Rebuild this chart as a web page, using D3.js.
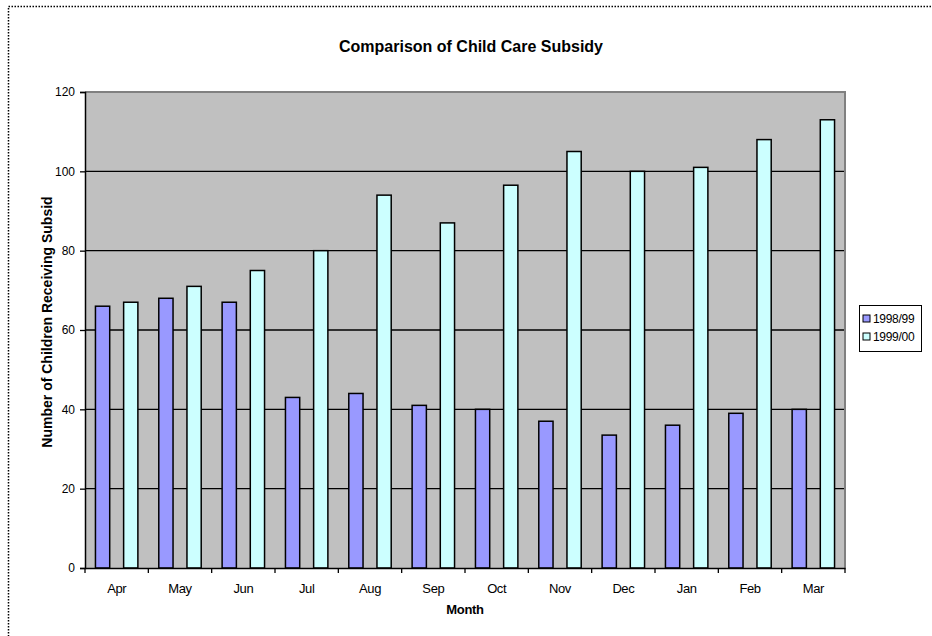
<!DOCTYPE html>
<html>
<head>
<meta charset="utf-8">
<script src="https://cdn.jsdelivr.net/npm/d3@7"></script>
<style>
  body { margin: 0; background: #fff; }
  svg { display: block; font-family: "Liberation Sans", Arial, sans-serif; }
</style>
</head>
<body>
<svg id="chart" width="932" height="636"></svg>
<script>
// Monthly counts of children receiving the child care subsidy, two fiscal years
const months = ["Apr", "May", "Jun", "Jul", "Aug", "Sep", "Oct", "Nov", "Dec", "Jan", "Feb", "Mar"];
const seriesNames = ["1998/99", "1999/00"];
const values1998 = [66, 68, 67, 43, 44, 41, 40, 37, 33.5, 36, 39, 40];
const values1999 = [67, 71, 75, 80, 94, 87, 96.5, 105, 100, 101, 108, 113];
const yTicks = [0, 20, 40, 60, 80, 100, 120];
const seriesColors = ["#9999FF", "#CCFFFF"];

const rows = months.map((m, i) => ({
  month: m,
  values: [
    { series: seriesNames[0], value: values1998[i] },
    { series: seriesNames[1], value: values1999[i] }
  ]
}));

const svg = d3.select("#chart");

// outer dotted chart-area frame (runs past the right and bottom edges)
svg.append("rect")
  .attr("x", 8.5).attr("y", 6.5)
  .attr("width", 960).attr("height", 660)
  .attr("fill", "none")
  .attr("stroke", "#000")
  .attr("stroke-width", 1.5)
  .attr("stroke-dasharray", "1.5,1.5");

const plot = { left: 85, right: 845, top: 92, bottom: 568 };

const x0 = d3.scaleBand().domain(months).range([plot.left, plot.right]);
const x1 = d3.scaleBand().domain(seriesNames)
  .range([0, x0.bandwidth()])
  .paddingInner(0.494)
  .paddingOuter(0.371);
const y = d3.scaleLinear().domain([0, 120]).range([plot.bottom, plot.top]);
const color = d3.scaleOrdinal().domain(seriesNames).range(seriesColors);

// plot background
svg.append("rect")
  .attr("x", plot.left).attr("y", plot.top)
  .attr("width", plot.right - plot.left)
  .attr("height", plot.bottom - plot.top)
  .attr("fill", "#C0C0C0");

// horizontal gridlines
svg.append("g")
  .selectAll("line")
  .data(yTicks.filter(t => t > 0 && t < 120))
  .join("line")
  .attr("x1", plot.left).attr("x2", plot.right)
  .attr("y1", d => y(d)).attr("y2", d => y(d))
  .attr("stroke", "#000")
  .attr("stroke-width", 1.3);

// bars
svg.append("g")
  .selectAll("g")
  .data(rows)
  .join("g")
  .attr("transform", d => `translate(${x0(d.month)},0)`)
  .selectAll("rect")
  .data(d => d.values)
  .join("rect")
  .attr("x", d => x1(d.series))
  .attr("y", d => y(d.value))
  .attr("width", x1.bandwidth())
  .attr("height", d => y(0) - y(d.value))
  .attr("fill", d => color(d.series))
  .attr("stroke", "#000")
  .attr("stroke-width", 1.5);

// grey plot border on top and right
svg.append("path")
  .attr("d", `M${plot.left},${plot.top}H${plot.right}V${plot.bottom}`)
  .attr("fill", "none")
  .attr("stroke", "#808080")
  .attr("stroke-width", 2);

// y axis
const yAxis = svg.append("g")
  .attr("transform", `translate(${plot.left},0)`)
  .call(d3.axisLeft(y).tickValues(yTicks).tickSize(5).tickPadding(5).tickFormat(d3.format("d")));
yAxis.select(".domain").attr("stroke", "#000").attr("stroke-width", 1.5);
yAxis.selectAll(".tick line").attr("stroke", "#000").attr("stroke-width", 1.3);
yAxis.selectAll(".tick text")
  .attr("fill", "#000")
  .style("font-size", "12px")
  .style("font-family", "'Liberation Sans', Arial, sans-serif");

// x axis: labels centred in each month band, ticks on band edges
const xAxis = svg.append("g")
  .attr("transform", `translate(0,${plot.bottom})`)
  .call(d3.axisBottom(x0).tickSize(0).tickPadding(25));
xAxis.select(".domain").attr("stroke", "#000").attr("stroke-width", 1.5);
xAxis.selectAll(".tick text")
  .attr("fill", "#000")
  .attr("dy", "0")
  .style("font-size", "13px")
  .style("letter-spacing", "-0.4px")
  .style("font-family", "'Liberation Sans', Arial, sans-serif");

const edges = months.map(m => x0(m)).concat([x0.range()[1]]);
xAxis.append("g")
  .selectAll("line")
  .data(edges)
  .join("line")
  .attr("x1", d => d).attr("x2", d => d)
  .attr("y1", 0).attr("y2", 5)
  .attr("stroke", "#000")
  .attr("stroke-width", 1.3);

// title
svg.append("text")
  .attr("x", 471).attr("y", 52)
  .attr("text-anchor", "middle")
  .style("font-size", "16px")
  .style("font-weight", "bold")
  .text("Comparison of Child Care Subsidy");

// axis titles
svg.append("text")
  .attr("x", 465).attr("y", 614)
  .attr("text-anchor", "middle")
  .style("font-size", "13px")
  .style("font-weight", "bold")
  .style("letter-spacing", "-0.3px")
  .text("Month");

svg.append("text")
  .attr("transform", "translate(52,322) rotate(-90)")
  .attr("text-anchor", "middle")
  .style("font-size", "14px")
  .style("font-weight", "bold")
  .text("Number of Children Receiving Subsid");

// legend
const legend = svg.append("g").attr("transform", "translate(859,305)");
legend.append("rect")
  .attr("x", 0.5).attr("y", 0.5)
  .attr("width", 62).attr("height", 46)
  .attr("fill", "#fff")
  .attr("stroke", "#000")
  .attr("stroke-width", 1);
const items = legend.selectAll("g.item")
  .data(seriesNames)
  .join("g")
  .attr("class", "item")
  .attr("transform", (d, i) => `translate(4,${18 + i * 18})`);
items.append("rect")
  .attr("x", 0).attr("y", -8)
  .attr("width", 7).attr("height", 7)
  .attr("fill", d => color(d))
  .attr("stroke", "#000")
  .attr("stroke-width", 1);
items.append("text")
  .attr("x", 10).attr("y", 0)
  .style("font-size", "12px")
  .style("letter-spacing", "-0.3px")
  .text(d => d);
</script>
</body>
</html>
